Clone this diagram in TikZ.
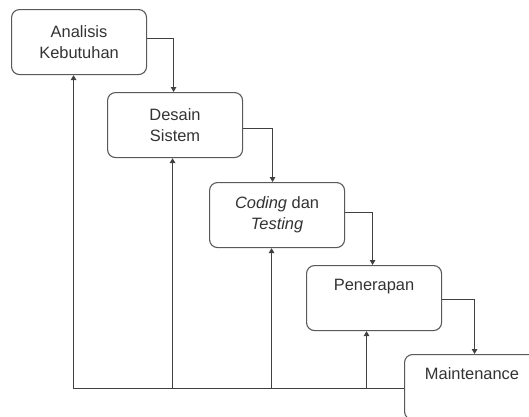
\documentclass[tikz,border=0pt]{standalone}
\usepackage{fontspec}
\setmainfont{Liberation Sans}
\usetikzlibrary{arrows.meta,calc}
\begin{document}
\begin{tikzpicture}[x=1bp,y=-1bp,
  phase/.style={draw=black!65,line width=1.1bp,rounded corners=8bp,anchor=north west,
    minimum width=135bp,minimum height=65bp,align=center,inner sep=0pt,
    font=\fontsize{16.5}{21}\selectfont,text=black!80},
  flow/.style={draw=black!75,line width=1.2bp,-{Triangle[length=5bp,width=5.5bp]}},
  fb/.style={draw=black!75,line width=1.2bp}]
\useasboundingbox (0,0) rectangle (529,416);
\node[phase] (b1) at (11,9) {Analisis\\Kebutuhan};
\node[phase] (b2) at (107,92) {Desain\\Sistem};
\node[phase] (b3) at (209,182) {\textit{Coding} dan\\\textit{Testing}};
\node[phase] (b4) at (306,265) {Penerapan\\\strut};
\node[phase] (b5) at (404,354) {Maintenance\\\strut};
% forward flow
\draw[flow] ([yshift=3.5bp]b1.east) -| ([xshift=-1.5bp]b2.north);
\draw[flow] ([yshift=-3.5bp]b2.east) -| ([xshift=-4.5bp]b3.north);
\draw[flow] ([yshift=2.5bp]b3.east) -| ([xshift=-1.5bp]b4.north);
\draw[flow] ([yshift=-1.5bp]b4.east) -| ([xshift=2.5bp]b5.north);
% feedback
\coordinate (fbase) at ([yshift=-1.5bp]b5.west);
\coordinate (c1) at ([xshift=-5.5bp]b1.south);
\coordinate (c2) at ([xshift=-2.5bp]b2.south);
\coordinate (c3) at ([xshift=-5.5bp]b3.south);
\coordinate (c4) at ([xshift=-7.5bp]b4.south);
\draw[fb] (fbase) -- (fbase -| c1);
\draw[flow] (fbase -| c1) -- (c1);
\draw[flow] (fbase -| c2) -- (c2);
\draw[flow] (fbase -| c3) -- (c3);
\draw[flow] (fbase -| c4) -- (c4);
\end{tikzpicture}
\end{document}
